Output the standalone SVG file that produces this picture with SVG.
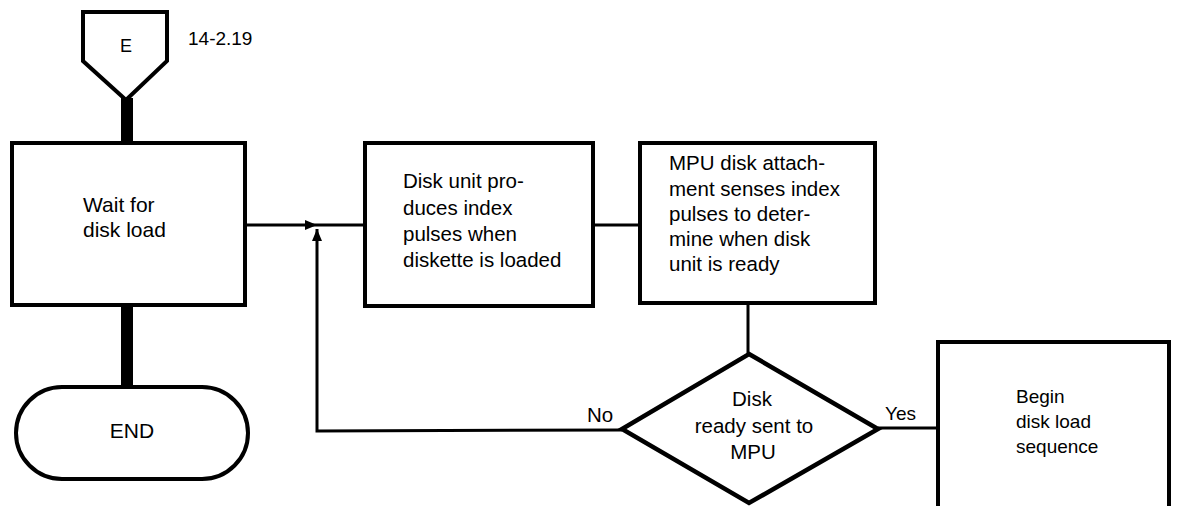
<svg xmlns="http://www.w3.org/2000/svg" width="1178" height="506" viewBox="0 0 1178 506">
<style>
.shape{fill:#fff;stroke:#000;stroke-width:4;stroke-linejoin:miter}
.conn{fill:none;stroke:#000;stroke-width:3}
.thick{fill:none;stroke:#000;stroke-width:12}
text{font-family:"Liberation Sans",Arial,sans-serif;font-size:20.5px;fill:#000}
.c{text-anchor:middle}
</style>
<defs>
<marker id="arr" viewBox="0 0 12 10" refX="12" refY="5" markerWidth="12" markerHeight="10" markerUnits="userSpaceOnUse" orient="auto">
<path d="M0,0 L12,5 L0,10 Z" fill="#000"/>
</marker>
</defs>
<rect width="1178" height="506" fill="#fff"/>
<g id="connectors">
<line class="thick" x1="127" y1="98" x2="127" y2="145"/>
<line class="thick" x1="127" y1="303" x2="127" y2="388"/>
<line class="conn" x1="245" y1="225" x2="317" y2="225" marker-end="url(#arr)"/>
<line class="conn" x1="317" y1="225" x2="365" y2="225"/>
<polyline class="conn" points="622,430 317,431 317,229" marker-end="url(#arr)"/>
<line class="conn" x1="593" y1="225" x2="640" y2="225"/>
<line class="conn" x1="748" y1="303" x2="748" y2="354"/>
<line class="conn" x1="878" y1="428" x2="938" y2="428"/>
<text x="587" y="422">No</text>
<text x="885" y="420" style="font-size:19px">Yes</text>
</g>
<g id="connector-E">
<path class="shape" d="M83,12 L167,12 L167,61 L126,100 L83,61 Z"/>
<text x="126" y="52" class="c" style="font-size:18px">E</text>
<text x="188" y="45" style="font-size:19px">14-2.19</text>
</g>
<g id="wait">
<rect class="shape" x="12" y="143" width="233" height="162"/>
<text x="83" y="212" style="font-size:21px">Wait for</text>
<text x="83" y="237" style="font-size:21px">disk load</text>
</g>
<g id="end">
<rect class="shape" x="16" y="387" width="232" height="92" rx="46" ry="46"/>
<text x="132" y="438" class="c" style="font-size:21px">END</text>
</g>
<g id="disk-unit">
<rect class="shape" x="365" y="143" width="228" height="163"/>
<text x="403" y="188">Disk unit pro-</text>
<text x="403" y="215">duces index</text>
<text x="403" y="241">pulses when</text>
<text x="403" y="267">diskette is loaded</text>
</g>
<g id="mpu-attach">
<rect class="shape" x="640" y="143" width="235" height="160"/>
<text x="669" y="170">MPU disk attach-</text>
<text x="669" y="196">ment senses index</text>
<text x="669" y="221">pulses to deter-</text>
<text x="669" y="246">mine when disk</text>
<text x="669" y="271">unit is ready</text>
</g>
<g id="decision">
<path class="shape" d="M749,354 L878,429 L749,503 L622,429 Z" style="stroke-width:4.5"/>
<text x="752" y="406" class="c">Disk</text>
<text x="754" y="433" class="c">ready sent to</text>
<text x="753" y="459" class="c">MPU</text>
</g>
<g id="begin">
<path class="shape" d="M938,520 L938,342 L1169,342 L1169,520"/>
<text x="1016" y="403" style="font-size:19px">Begin</text>
<text x="1016" y="428" style="font-size:19px">disk load</text>
<text x="1016" y="453" style="font-size:19px">sequence</text>
</g>
</svg>
